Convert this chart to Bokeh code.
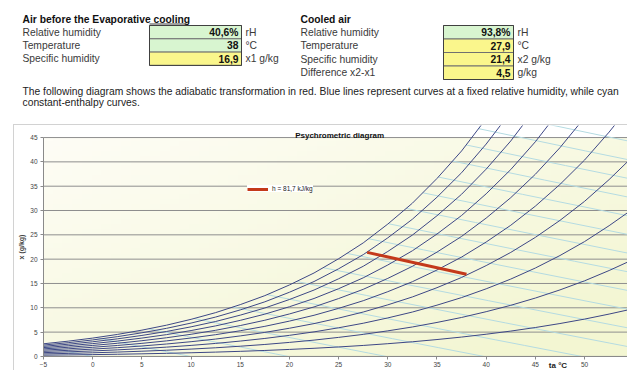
import numpy as np
from bokeh.plotting import figure
from bokeh.models import Range1d, Label, Legend, LegendItem, FixedTicker, Spacer
from bokeh.layouts import column, row
from bokeh.embed import file_html
from bokeh.resources import INLINE
from bokeh.core.properties import value

# ---------------- data ----------------
temps_c = [-5, -2.5, 0, 2.5, 5, 7.5, 10, 12.5, 15, 17.5, 20, 22.5, 25, 27.5,
           30, 32.5, 35, 37.5, 40, 42.5, 45, 47.5, 50, 52.5, 55, 57.5]
sat_pressure_kpa = [0.422, 0.509, 0.611, 0.731, 0.873, 1.036, 1.228, 1.447,
                    1.706, 1.996, 2.339, 2.720, 3.170, 3.665, 4.247, 4.885,
                    5.629, 6.444, 7.384, 8.420, 9.590, 10.90, 12.35, 13.99,
                    15.76, 17.80]
rh_levels = [10, 20, 30, 40, 50, 60, 70, 80, 90, 100]
enthalpy_levels = [0, 10, 20, 30, 40, 50, 60, 70, 80, 90, 100, 110, 120,
                   130, 140, 150, 160, 170]
process_temp = [38.0, 27.9]
process_x = [16.9, 21.4]
process_label = "h = 81,7 kJ/kg"
x_ticks = [-5, 0, 5, 10, 15, 20, 25, 30, 35, 40, 45, 50]
y_ticks = [0, 5, 10, 15, 20, 25, 30, 35, 40, 45]

before_title = "Air before the Evaporative cooling"
before_labels = ["Relative humidity", "Temperature", "Specific humidity"]
before_values = ["40,6%", "38", "16,9"]
before_units = ["rH", "°C", "x1 g/kg"]
before_fill = ["#d8f5d0", "#d8f5d0", "#faf68c"]

cooled_title = "Cooled air"
cooled_labels = ["Relative humidity", "Temperature", "Specific humidity", "Difference x2-x1"]
cooled_values = ["93,8%", "27,9", "21,4", "4,5"]
cooled_units = ["rH", "°C", "x2 g/kg", "g/kg"]
cooled_fill = ["#d8f5d0", "#faf68c", "#faf68c", "#faf68c"]

paragraph = [
    "The following diagram shows the adiabatic transformation in red. Blue lines represent curves at a fixed relative humidity, while cyan",
    "constant-enthalpy curves.",
]
chart_title = "Psychrometric diagram"
x_title = "ta °C"
y_title = "x (g/kg)"

P_ATM = 101.325
FNAME = "Liberation Sans"
FONT = value(FNAME)
TXT = "10.3px"

# ---------------- top (spreadsheet) ----------------
W, TOP_H = 627, 124
top = figure(width=W, height=TOP_H, x_range=Range1d(0, W), y_range=Range1d(TOP_H, 0),
             output_backend="svg", toolbar_location=None, min_border=0,
             x_axis_location=None, y_axis_location=None)
top.grid.visible = False
top.outline_line_color = None


def table(x_lab, x_box0, x_box1, y0, rh, title, labels, vals, units, fills):
    top.text(x=[x_lab], y=[y0 - 6.5], text=[title], text_font=FONT, text_font_size=TXT,
             text_font_style="bold", text_baseline="middle", text_color="#111111")
    n = len(labels)
    tops = [y0 + i * rh for i in range(n)]
    bots = [t + rh for t in tops]
    mids = [t + rh / 2 for t in tops]
    top.quad(left=[x_box0] * n, right=[x_box1] * n, top=tops, bottom=bots,
             fill_color=fills, line_color="#707070", line_width=1)
    top.quad(left=[x_box0], right=[x_box1], top=[tops[0]], bottom=[bots[-1]],
             fill_color=None, line_color="#404040", line_width=1)
    top.text(x=[x_lab] * n, y=mids, text=labels, text_font=FONT, text_font_size=TXT,
             text_baseline="middle", text_color="#3a3a3a")
    top.text(x=[x_box1 - 3] * n, y=mids, text=vals, text_font=FONT, text_font_size=TXT,
             text_baseline="middle", text_align="right", text_font_style="bold",
             text_color="#111111")
    top.text(x=[x_box1 + 4] * n, y=mids, text=units, text_font=FONT, text_font_size=TXT,
             text_baseline="middle", text_color="#3a3a3a")


table(22, 149, 241, 25, 13.3, before_title, before_labels, before_values, before_units, before_fill)
table(300, 443, 513, 25, 13.5, cooled_title, cooled_labels, cooled_values, cooled_units, cooled_fill)
top.segment(x0=[149], y0=[23.5], x1=[186], y1=[23.5], line_color="#404040", line_width=1)
top.text(x=[22, 22], y=[91, 101.5], text=paragraph, text_font=FONT, text_font_size=TXT,
         text_baseline="middle", text_color="#222222")

# ---------------- chart ----------------
X0, X1 = -7.953, 54.47
Y0, Y1 = -3.097, 47.477
p = figure(frame_width=613, frame_height=245, x_range=Range1d(X0, X1), y_range=Range1d(Y0, Y1),
           output_backend="svg", toolbar_location=None, min_border=0)
p.styles = {"border-left": "1px solid #d2d2d2", "border-top": "1px solid #d2d2d2"}
p.background_fill_color = "white"
p.border_fill_color = "white"
p.outline_line_color = None
p.grid.visible = False

# plot-area background (soft gradient)
nx, ny = 60, 45
u = np.linspace(0, 1, nx)[None, :]
v = np.linspace(1, 0, ny)[:, None]          # row 0 = bottom
f = np.clip(0.55 * u + 0.55 * v, 0, 1)
c0 = np.array([254, 253, 246])
c1 = np.array([243, 246, 210])
rgb = c0[None, None, :] * (1 - f[..., None]) + c1[None, None, :] * f[..., None]
img = np.empty((ny, nx), dtype=np.uint32)
view = img.view(dtype=np.uint8).reshape((ny, nx, 4))
view[..., 0:3] = rgb.astype(np.uint8)
view[..., 3] = 255
p.image_rgba(image=[img], x=x_ticks[0], y=y_ticks[0], dw=X1 - x_ticks[0], dh=y_ticks[-1],
             level="image")

# horizontal gridlines at the y ticks, spanning only the plot area
n_y = len(y_ticks)
p.segment(x0=[x_ticks[0]] * n_y, y0=y_ticks, x1=[X1] * n_y, y1=y_ticks,
          line_color="#8e8e8e", line_width=1, level="underlay")

t = np.array(temps_c, dtype=float)
ps = np.array(sat_pressure_kpa, dtype=float)

# constant-enthalpy lines
w_sat = 622.0 * ps / (P_ATM - ps)
h_sat = 1.006 * t + w_sat / 1000.0 * (2501 + 1.86 * t)
hx, hy = [], []
for h in enthalpy_levels:
    if h > h_sat[-1]:
        continue
    ts = float(np.interp(h, h_sat, t))
    te = h / 1.006
    tt = np.linspace(ts, te, 12)
    ww = 1000.0 * (h - 1.006 * tt) / (2501 + 1.86 * tt)
    hx.append(list(tt))
    hy.append(list(ww))
p.multi_line(hx, hy, line_color="#b4dbe2", line_width=1)

# relative humidity curves
rx, ry = [], []
for rh in rh_levels:
    pv = rh / 100.0 * ps
    rx.append(list(t))
    ry.append(list(622.0 * pv / (P_ATM - pv)))
p.multi_line(rx, ry, line_color="#3d4785", line_width=1)

# process line
r = p.line(process_temp, process_x, line_color="#c4391a", line_width=3)

legend = Legend(items=[LegendItem(label=process_label, renderers=[r])], location=(233, 179),
                padding=5, margin=0, spacing=0, glyph_width=21, glyph_height=6,
                label_height=6, label_standoff=4, label_text_font=FNAME,
                label_text_font_size="6.5px", label_text_color="#222222",
                background_fill_color="white", background_fill_alpha=1, border_line_color=None)
p.add_layout(legend)

p.xaxis.ticker = FixedTicker(ticks=x_ticks)
p.yaxis.ticker = FixedTicker(ticks=y_ticks)
p.xaxis.fixed_location = y_ticks[0]
p.yaxis.fixed_location = x_ticks[0]
p.xaxis.bounds = (x_ticks[0], X1)
p.yaxis.bounds = (y_ticks[0], y_ticks[-1])
for ax in (p.xaxis[0], p.yaxis[0]):
    ax.axis_line_color = "#8a8a8a"
    ax.major_tick_line_color = "#8a8a8a"
    ax.major_tick_out = 3
    ax.major_tick_in = 0
    ax.minor_tick_line_color = None
    ax.major_label_text_font = FNAME
    ax.major_label_text_font_size = "6.5px"
    ax.major_label_text_color = "#444444"
    ax.major_label_standoff = 3
p.yaxis.axis_label = y_title
p.yaxis.axis_label_text_font = FNAME
p.yaxis.axis_label_text_font_size = "7px"
p.yaxis.axis_label_text_font_style = "bold"
p.yaxis.axis_label_standoff = 2

p.add_layout(Label(x=25.1, y=45.4, text=chart_title, text_font=FNAME, text_font_size="8px",
                   text_font_style="bold", text_align="center", text_baseline="middle",
                   text_color="#111111"))
p.add_layout(Label(x=47.3, y=-1.9, text=x_title, text_font=FNAME, text_font_size="8px",
                   text_font_style="bold", text_align="center", text_baseline="middle",
                   text_color="#222222"))

layout = column(top, row(Spacer(width=13, height=246), p))
open("out.html", "w").write(file_html(layout, INLINE))
